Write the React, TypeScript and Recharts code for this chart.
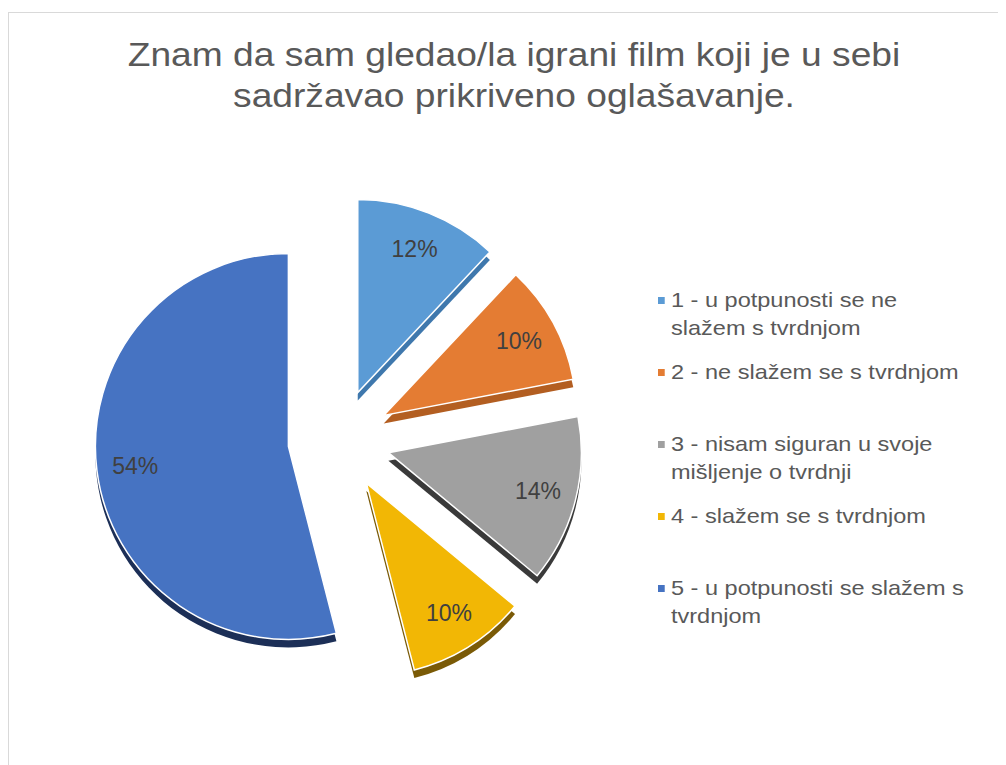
import React from 'react';
import { PieChart, Pie, Cell, Legend } from 'recharts';

const categories = [
  '1 - u potpunosti se ne slažem s tvrdnjom',
  '2 - ne slažem se s tvrdnjom',
  '3 - nisam siguran u svoje mišljenje o tvrdnji',
  '4 - slažem se s tvrdnjom',
  '5 - u potpunosti se slažem s tvrdnjom',
];
const shares = [12, 10, 14, 10, 54];
const topColors = ['#5b9bd5', '#e47c33', '#a0a0a0', '#f2b705', '#4673c2'];
const sideColors = ['#3f78ad', '#b35e21', '#3a3a3a', '#7a5a06', '#1c2f57'];

const data = categories.map((name, i) => ({ name, value: shares[i] }));
const total = shares.reduce((a, b) => a + b, 0);

const CX = 325;
const CY = 422;
const R = 193;
const EXPLODE = 51;
const DEPTH = 8;
const FONT = '"Liberation Sans", Arial, sans-serif';

// where each slice sits once it is pulled out along its bisector
const offsets = shares.map((v, i) => {
  const before = shares.slice(0, i).reduce((a, b) => a + b, 0);
  const mid = 90 - (360 * (before + v / 2)) / total;
  const rad = (mid * Math.PI) / 180;
  return { dx: EXPLODE * Math.cos(rad), dy: -EXPLODE * Math.sin(rad) };
});

const renderLabel = (only: number) => (props: any) => {
  const { cx, cy, midAngle, outerRadius, index, percent } = props;
  if (index !== only) return null;
  const rad = (midAngle * Math.PI) / 180;
  const x = cx + outerRadius * 0.8 * Math.cos(rad);
  const y = cy - outerRadius * 0.8 * Math.sin(rad);
  return (
    <text x={x} y={y} fill="#404040" fontSize={23} fontFamily={FONT} textAnchor="middle" dominantBaseline="central">
      {`${Math.round(percent * 100)}%`}
    </text>
  );
};

const LegendBox = () => (
  <div
    style={{
      fontFamily: FONT,
      fontSize: 21,
      color: '#595959',
      lineHeight: '28px',
      transform: 'scaleX(1.12)',
      transformOrigin: 'left top',
    }}
  >
    {categories.map((c, i) => (
      <div key={c} style={{ height: 72, display: 'flex', alignItems: 'flex-start' }}>
        <div style={{ width: 6.3, height: 7, background: topColors[i], marginTop: 11, marginRight: 5.3, flexShrink: 0 }} />
        <div style={{ width: 268 }}>{c}</div>
      </div>
    ))}
  </div>
);

export default function App() {
  return (
    <div
      style={{
        position: 'relative',
        marginTop: 4,
        width: 998,
        height: 753,
        borderTop: '1px solid #d9d9d9',
        borderLeft: '1px solid #d9d9d9',
        boxSizing: 'border-box',
        background: '#fff',
      }}
    >
      <div
        style={{
          position: 'absolute',
          left: 0,
          width: 1010,
          top: 21,
          textAlign: 'center',
          fontFamily: FONT,
          fontSize: 34,
          lineHeight: '41px',
          color: '#595959',
          transform: 'scaleX(1.093)',
          transformOrigin: '505px 0',
        }}
      >
        Znam da sam gledao/la igrani film koji je u sebi
        <br />
        sadržavao prikriveno oglašavanje.
      </div>
      <PieChart width={997} height={752}>
        {offsets.map((o, i) => (
          <Pie
            key={`side-${i}`}
            data={data}
            dataKey="value"
            cx={CX + o.dx}
            cy={CY + o.dy + DEPTH}
            outerRadius={R}
            startAngle={90}
            endAngle={-270}
            stroke="none"
            isAnimationActive={false}
            legendType="none"
          >
            {data.map((d, j) => (
              <Cell key={d.name} fill={j === i ? sideColors[i] : 'none'} />
            ))}
          </Pie>
        ))}
        {offsets.map((o, i) => (
          <Pie
            key={`top-${i}`}
            data={data}
            dataKey="value"
            cx={CX + o.dx}
            cy={CY + o.dy}
            outerRadius={R}
            startAngle={90}
            endAngle={-270}
            isAnimationActive={false}
            labelLine={false}
            label={renderLabel(i)}
          >
            {data.map((d, j) => (
              <Cell
                key={d.name}
                fill={j === i ? topColors[i] : 'none'}
                stroke={j === i ? '#ffffff' : 'none'}
                strokeWidth={1.5}
              />
            ))}
          </Pie>
        ))}
        <Legend
          content={() => <LegendBox />}
          wrapperStyle={{ position: 'absolute', left: 649, top: 273, width: 345 }}
        />
      </PieChart>
    </div>
  );
}
